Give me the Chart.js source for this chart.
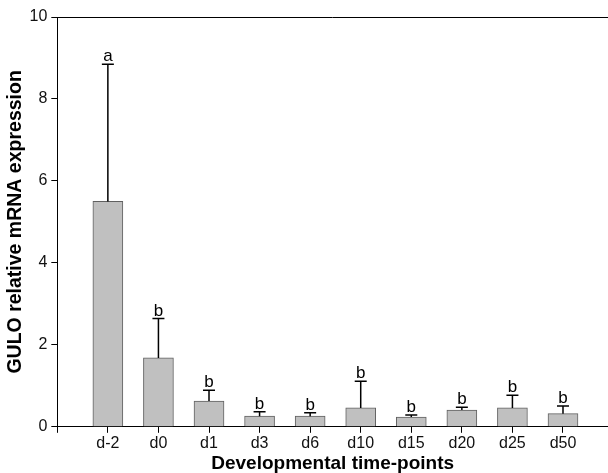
<!DOCTYPE html>
<html>
<head>
<meta charset="utf-8">
<script src="https://cdn.jsdelivr.net/npm/chart.js@4"></script>
<style>
  html, body { margin: 0; padding: 0; background: #fff; }
  #wrap { width: 608px; height: 473px; }
</style>
</head>
<body>
<div id="wrap"><canvas id="gulo"></canvas></div>
<script>
const categories = ['d-2', 'd0', 'd1', 'd3', 'd6', 'd10', 'd15', 'd20', 'd25', 'd50'];
const means = [5.50, 1.68, 0.63, 0.26, 0.26, 0.46, 0.24, 0.41, 0.46, 0.32];
const sd = [3.35, 0.96, 0.26, 0.11, 0.08, 0.65, 0.05, 0.07, 0.31, 0.19];
const groups = ['a', 'b', 'b', 'b', 'b', 'b', 'b', 'b', 'b', 'b'];
const yTicks = [0, 2, 4, 6, 8, 10];

const font = 'Liberation Sans, Arial, sans-serif';

// error bars + significance letters, drawn through the scales
const errorBars = {
    id: 'errorBars',
    afterDatasetsDraw(chart) {
        const { ctx, chartArea, scales: { x, y } } = chart;
        ctx.save();
        // top frame line
        ctx.strokeStyle = '#000';
        ctx.lineWidth = 1;
        ctx.beginPath();
        ctx.moveTo(chartArea.left, Math.round(chartArea.top) + 0.5);
        ctx.lineTo(chartArea.right, Math.round(chartArea.top) + 0.5);
        ctx.stroke();

        ctx.lineWidth = 1.5;
        ctx.fillStyle = '#000';
        ctx.font = '17px ' + font;
        ctx.textAlign = 'center';
        ctx.textBaseline = 'alphabetic';
        means.forEach((m, i) => {
            const px = x.getPixelForValue(i);
            const yb = y.getPixelForValue(m);
            const yt = y.getPixelForValue(m + sd[i]);
            ctx.beginPath();
            ctx.moveTo(px, yb);
            ctx.lineTo(px, yt);
            ctx.moveTo(px - 6, yt);
            ctx.lineTo(px + 6, yt);
            ctx.stroke();
            ctx.fillText(groups[i], px, yt - 3);
        });
        ctx.restore();
    }
};

new Chart(document.getElementById('gulo'), {
    type: 'bar',
    data: {
        datasets: [{
            data: means.map((m, i) => ({ x: i, y: m })),
            backgroundColor: '#c0c0c0',
            borderColor: '#606060',
            borderWidth: 1,
            barThickness: 30
        }]
    },
    options: {
        responsive: true,
        maintainAspectRatio: false,
        animation: false,
        layout: { padding: { top: 17, right: 0, left: 0, bottom: 0 } },
        plugins: { legend: { display: false }, tooltip: { enabled: false } },
        scales: {
            x: {
                type: 'linear',
                offset: false,
                min: -1,
                max: 9.89,
                afterBuildTicks: (axis) => {
                    axis.ticks = [-1, 0, 1, 2, 3, 4, 5, 6, 7, 8, 9].map(v => ({ value: v }));
                },
                grid: { display: true, offset: false, drawOnChartArea: false, tickLength: 6, color: '#000' },
                border: { display: true, color: '#000', width: 1 },
                ticks: {
                    autoSkip: false,
                    maxRotation: 0,
                    color: '#111',
                    padding: 1,
                    font: { family: font, size: 16 },
                    callback: (v) => categories[v] ?? ''
                },
                title: {
                    display: true,
                    text: 'Developmental time-points',
                    color: '#000',
                    padding: { top: 0, bottom: 0 },
                    font: { family: font, size: 19, weight: 'bold', lineHeight: 1 }
                }
            },
            y: {
                min: 0,
                max: 10,
                afterBuildTicks: (axis) => {
                    axis.ticks = yTicks.map(v => ({ value: v }));
                },
                grid: { display: true, drawOnChartArea: false, tickLength: 6, color: '#000' },
                border: { display: true, color: '#000', width: 1 },
                ticks: {
                    color: '#111',
                    padding: 4,
                    font: { family: font, size: 16 }
                },
                title: {
                    display: true,
                    text: 'GULO relative mRNA expression',
                    color: '#000',
                    padding: { top: 6, bottom: 0 },
                    font: { family: font, size: 19.5, weight: 'bold', lineHeight: 1 }
                }
            }
        }
    },
    plugins: [errorBars]
});
</script>
</body>
</html>
